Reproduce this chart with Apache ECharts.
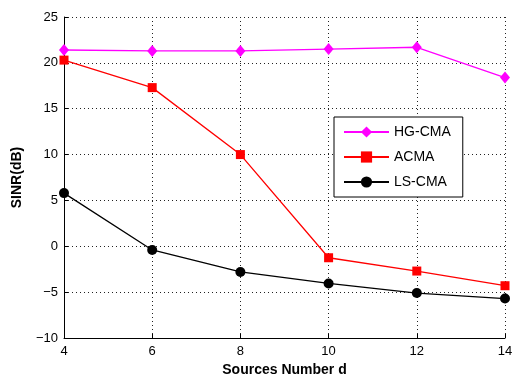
<!DOCTYPE html>
<html>
<head>
<meta charset="utf-8">
<script src="https://cdn.jsdelivr.net/npm/echarts@6/dist/echarts.min.js"></script>
<style>html,body{margin:0;padding:0;background:#fff;}#c{width:517px;height:375px;}</style>
</head>
<body>
<div id="c"></div>
<script>
var sourcesNumber = [4, 6, 8, 10, 12, 14];
var hgCma = [21.4, 21.3, 21.3, 21.5, 21.7, 18.4];
var acma = [20.3, 17.3, 10.0, -1.25, -2.7, -4.3];
var lsCma = [5.8, -0.4, -2.8, -4.05, -5.1, -5.7];
var seriesNames = ['HG-CMA', 'ACMA', 'LS-CMA'];

function pairs(xs, ys) { return xs.map(function (x, i) { return [x, ys[i]]; }); }
function minus(v) { return String(v).replace('-', '\u2212'); }

var font = 'Liberation Sans, Arial, Helvetica, sans-serif';
var chart = echarts.init(document.getElementById('c'), null, { renderer: 'canvas' });
chart.setOption({
  animation: false,
  backgroundColor: '#fff',
  grid: { left: 64, right: 12, top: 17, bottom: 37, containLabel: false, outerBoundsMode: 'none' },
  xAxis: {
    type: 'value', min: 4, max: 14, interval: 2,
    name: 'Sources Number d', nameLocation: 'middle', nameGap: 23,
    nameTextStyle: { fontFamily: font, fontSize: 14, fontWeight: 'bold', color: '#000' },
    axisLine: { onZero: false, lineStyle: { color: '#000', width: 1 } },
    axisTick: { inside: true, length: 4, lineStyle: { color: '#000' } },
    axisLabel: { fontFamily: font, fontSize: 13, color: '#000', margin: 7, formatter: minus },
    splitLine: { show: true, lineStyle: { color: '#222', type: [1, 3], width: 1 } }
  },
  yAxis: {
    type: 'value', min: -10, max: 25, interval: 5,
    name: 'SINR(dB)', nameLocation: 'middle', nameGap: 40, nameRotate: 90,
    nameTextStyle: { fontFamily: font, fontSize: 14, fontWeight: 'bold', color: '#000' },
    axisLine: { show: true, onZero: false, lineStyle: { color: '#000', width: 1 } },
    axisTick: { show: true, inside: true, length: 4, lineStyle: { color: '#000' } },
    axisLabel: { fontFamily: font, fontSize: 13, color: '#000', margin: 6, formatter: minus },
    splitLine: { show: true, lineStyle: { color: '#222', type: [1, 3], width: 1 } }
  },
  legend: {
    orient: 'vertical', left: 334, top: 117,
    data: seriesNames,
    backgroundColor: '#fff',
    borderColor: '#000', borderWidth: 1,
    padding: [8, 12, 8, 9],
    itemWidth: 45, itemHeight: 14, itemGap: 11,
    textStyle: { fontFamily: font, fontSize: 14, color: '#000' }
  },
  series: [
    { name: seriesNames[0], type: 'line', data: pairs(sourcesNumber, hgCma),
      color: '#ff00ff', lineStyle: { width: 1.3, color: '#ff00ff' },
      symbol: 'diamond', symbolSize: [10, 12], itemStyle: { color: '#ff00ff' } },
    { name: seriesNames[1], type: 'line', data: pairs(sourcesNumber, acma),
      color: '#ff0000', lineStyle: { width: 1.3, color: '#ff0000' },
      symbol: 'rect', symbolSize: 9, itemStyle: { color: '#ff0000' } },
    { name: seriesNames[2], type: 'line', data: pairs(sourcesNumber, lsCma),
      color: '#000', lineStyle: { width: 1.3, color: '#000' },
      symbol: 'circle', symbolSize: 10, itemStyle: { color: '#000' } }
  ]
});
</script>
</body>
</html>
